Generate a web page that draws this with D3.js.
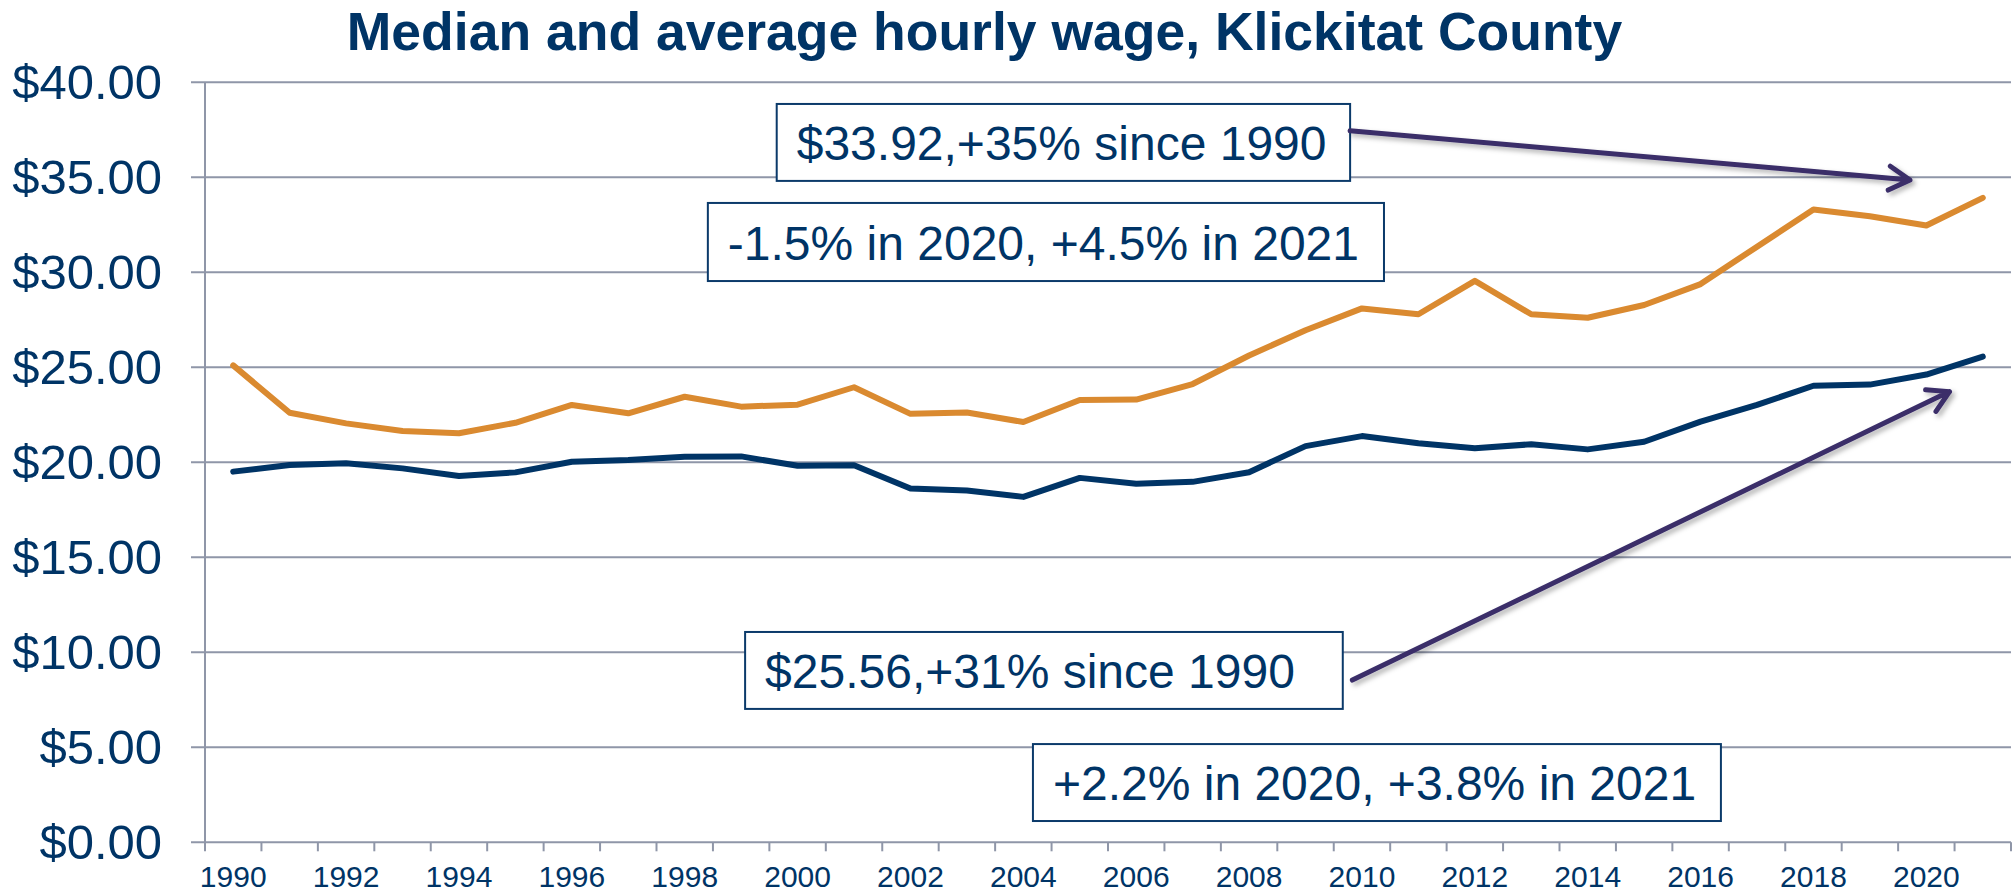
<!DOCTYPE html>
<html>
<head>
<meta charset="utf-8">
<script src="https://cdn.jsdelivr.net/npm/d3@7"></script>
<style>
  html, body { margin: 0; padding: 0; background: #fff; }
  svg { display: block; font-family: "Liberation Sans", Arial, sans-serif; }
</style>
</head>
<body>
<div class="first"></div>
<script>
var years = d3.range(1990, 2022);

// average hourly wage (orange)
var average = [25.10, 22.61, 22.05, 21.65, 21.53, 22.08, 23.02, 22.58, 23.45, 22.93,
               23.03, 23.95, 22.55, 22.62, 22.12, 23.28, 23.30, 24.12, 25.62, 26.95,
               28.10, 27.79, 29.55, 27.79, 27.61, 28.28, 29.38, 31.35, 33.30, 32.95,
               32.46, 33.92];

// median hourly wage (navy)
var median = [19.51, 19.86, 19.95, 19.68, 19.28, 19.47, 20.03, 20.12, 20.29, 20.31,
              19.82, 19.85, 18.62, 18.52, 18.18, 19.18, 18.87, 18.97, 19.48, 20.85,
              21.38, 21.00, 20.74, 20.95, 20.68, 21.08, 22.14, 23.02, 24.03, 24.09,
              24.62, 25.56];

var yTicks = [0, 5, 10, 15, 20, 25, 30, 35, 40];
var xLabelYears = years.filter(function(d) { return d % 2 === 0; });

var title = "Median and average hourly wage, Klickitat County";

// callout boxes, in data units (year, dollars)
var notes = [
  {text: "$33.92,+35% since 1990", x0: 1999.63, x1: 2009.79, top: 38.86, bottom: 34.81},
  {text: "-1.5% in 2020, +4.5% in 2021", x0: 1998.41, x1: 2010.39, top: 33.65, bottom: 29.54},
  {text: "$25.56,+31% since 1990", x0: 1999.07, x1: 2009.66, top: 11.07, bottom: 7.02},
  {text: "+2.2% in 2020, +3.8% in 2021", x0: 2004.17, x1: 2016.36, top: 5.17, bottom: 1.12}
];

// arrows, in data units
var arrows = [
  {x1: 2009.79, y1: 37.45, x2: 2019.71, y2: 34.86},
  {x1: 2009.83, y1: 8.54, x2: 2020.41, y2: 23.72}
];

var width = 2012, height = 895;
var margin = {top: 82.3, left: 205, bottom: 52.7, right: 1};

var navy = "#003466", orange = "#DA8A30", grid = "#8F96A8", arrowColor = "#3A2E69";

var svg = d3.select("body .first")
  .append("svg")
  .attr("width", width)
  .attr("height", height);

var defs = svg.append("defs");
var shadow = defs.append("filter")
  .attr("id", "shadow")
  .attr("x", "-20%").attr("y", "-20%")
  .attr("width", "140%").attr("height", "140%");
shadow.append("feDropShadow")
  .attr("dx", 3).attr("dy", 3)
  .attr("stdDeviation", 2.5)
  .attr("flood-color", "#000")
  .attr("flood-opacity", 0.3);

var x = d3.scaleBand()
  .domain(years)
  .range([margin.left, width - margin.right])
  .padding(0);

// continuous helper for annotations, same mapping as the band scale
var xl = d3.scaleLinear()
  .domain([1989.5, 2021.5])
  .range([margin.left, width - margin.right]);

var y = d3.scaleLinear()
  .domain([0, 40])
  .range([height - margin.bottom, margin.top]);

var cx = function(yr) { return x(yr) + x.bandwidth() / 2; };

// gridlines + y ticks
svg.append("g")
  .attr("class", "grid")
  .selectAll("line")
  .data(yTicks)
  .enter().append("line")
  .attr("x1", margin.left - 14)
  .attr("x2", width - margin.right)
  .attr("y1", function(d) { return y(d); })
  .attr("y2", function(d) { return y(d); })
  .attr("stroke", grid)
  .attr("stroke-width", 2);

// y axis line
svg.append("line")
  .attr("x1", margin.left).attr("x2", margin.left)
  .attr("y1", y(40)).attr("y2", y(0))
  .attr("stroke", grid)
  .attr("stroke-width", 2);

// x ticks between categories
var xTickPos = years.map(function(d) { return x(d); }).concat([x(2021) + x.bandwidth()]);
svg.append("g")
  .selectAll("line")
  .data(xTickPos)
  .enter().append("line")
  .attr("x1", function(d) { return d; })
  .attr("x2", function(d) { return d; })
  .attr("y1", y(0))
  .attr("y2", y(0) + 9)
  .attr("stroke", grid)
  .attr("stroke-width", 2);

// y labels
svg.append("g")
  .selectAll("text")
  .data(yTicks)
  .enter().append("text")
  .attr("x", 162)
  .attr("y", function(d) { return y(d); })
  .attr("dy", "0.35em")
  .attr("text-anchor", "end")
  .attr("fill", navy)
  .attr("font-size", 49)
  .text(function(d) { return "$" + d3.format(".2f")(d); });

// x labels
svg.append("g")
  .selectAll("text")
  .data(xLabelYears)
  .enter().append("text")
  .attr("x", function(d) { return cx(d); })
  .attr("y", 887)
  .attr("text-anchor", "middle")
  .attr("fill", navy)
  .attr("font-size", 30)
  .text(function(d) { return d; });

// title
svg.append("text")
  .attr("x", 984.5)
  .attr("y", 50)
  .attr("text-anchor", "middle")
  .attr("fill", navy)
  .attr("font-size", 53.5)
  .attr("font-weight", "bold")
  .text(title);

// lines
var line = d3.line()
  .x(function(d, i) { return cx(years[i]); })
  .y(function(d) { return y(d); });

svg.append("path")
  .datum(average)
  .attr("d", line)
  .attr("fill", "none")
  .attr("stroke", orange)
  .attr("stroke-width", 6)
  .attr("stroke-linejoin", "round")
  .attr("stroke-linecap", "round");

svg.append("path")
  .datum(median)
  .attr("d", line)
  .attr("fill", "none")
  .attr("stroke", navy)
  .attr("stroke-width", 6)
  .attr("stroke-linejoin", "round")
  .attr("stroke-linecap", "round");

// callout boxes
var note = svg.append("g")
  .selectAll("g")
  .data(notes)
  .enter().append("g");

note.append("rect")
  .attr("x", function(d) { return xl(d.x0); })
  .attr("y", function(d) { return y(d.top); })
  .attr("width", function(d) { return xl(d.x1) - xl(d.x0); })
  .attr("height", function(d) { return y(d.bottom) - y(d.top); })
  .attr("fill", "#fff")
  .attr("stroke", "#0B3A6A")
  .attr("stroke-width", 2);

note.append("text")
  .attr("x", function(d) { return xl(d.x0) + 20; })
  .attr("y", function(d) { return y(d.bottom) - 21; })
  .attr("fill", navy)
  .attr("font-size", 48)
  .text(function(d) { return d.text; });

// arrows with open heads
var arrow = svg.append("g")
  .selectAll("g")
  .data(arrows)
  .enter().append("g")
  .attr("filter", "url(#shadow)");

arrow.append("path")
  .attr("d", function(d) {
    var ax = xl(d.x1), ay = y(d.y1), bx = xl(d.x2), by = y(d.y2);
    var a = Math.atan2(by - ay, bx - ax);
    var L = 24, s = Math.PI / 6;
    var p1 = [bx - L * Math.cos(a - s), by - L * Math.sin(a - s)];
    var p2 = [bx - L * Math.cos(a + s), by - L * Math.sin(a + s)];
    return "M" + ax + "," + ay + "L" + bx + "," + by +
      "M" + p1[0] + "," + p1[1] + "L" + bx + "," + by + "L" + p2[0] + "," + p2[1];
  })
  .attr("fill", "none")
  .attr("stroke", arrowColor)
  .attr("stroke-width", 5)
  .attr("stroke-linecap", "round")
  .attr("stroke-linejoin", "round");
</script>
</body>
</html>
